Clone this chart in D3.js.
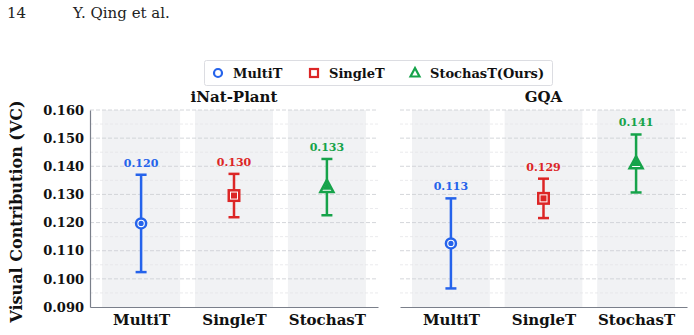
<!DOCTYPE html>
<html>
<head>
<meta charset="utf-8">
<script src="https://cdn.jsdelivr.net/npm/d3@7"></script>
<style>
    body { margin: 0; background: #fff; }
    text { font-family: "DejaVu Serif", serif; font-weight: bold; }
</style>
</head>
<body>
<div id="chart"></div>
<script>
"use strict";

const methods = ["MultiT", "SingleT", "StochasT"];
const legendNames = ["MultiT", "SingleT", "StochasT(Ours)"];
const colors = ["#2563eb", "#dc2626", "#16a34a"];
const shapes = ["circle", "square", "triangle"];

const datasets = ["iNat-Plant", "GQA"];
const inatMeans = [0.1197, 0.1296, 0.1326];
const inatErrs = [0.0173, 0.0077, 0.0100];
const gqaMeans = [0.1126, 0.1286, 0.1410];
const gqaErrs = [0.0160, 0.0070, 0.0103];

const yTicks = [0.090, 0.100, 0.110, 0.120, 0.130, 0.140, 0.150, 0.160];
const yMinorTicks = [0.095, 0.105, 0.115, 0.125, 0.135, 0.145, 0.155];

const W = 694, H = 335;
const svg = d3.select("#chart").append("svg")
    .attr("width", W).attr("height", H);

// page header
svg.append("text").attr("x", 7).attr("y", 18)
    .style("font-weight", "normal").style("font-size", "15px").attr("fill", "#222").text("14");
svg.append("text").attr("x", 73).attr("y", 18)
    .style("font-weight", "normal").style("font-size", "15px").attr("fill", "#222").text("Y. Qing et al.");

const yScale = d3.scaleLinear().domain([0.09, 0.16]).range([307, 110]);

// marker: white-filled outer shape with coloured edge, then a filled core
function drawMarker(g, shape, cx, cy, color) {
    if (shape === "circle") {
        g.append("circle").attr("cx", cx).attr("cy", cy).attr("r", 5)
            .attr("fill", "#fff").attr("stroke", color).attr("stroke-width", 2.5);
        g.append("circle").attr("cx", cx).attr("cy", cy).attr("r", 2.6).attr("fill", color);
    } else if (shape === "square") {
        g.append("rect").attr("x", cx - 5.25).attr("y", cy - 5.25)
            .attr("width", 10.5).attr("height", 10.5)
            .attr("fill", "#fff").attr("stroke", color).attr("stroke-width", 2.5);
        g.append("rect").attr("x", cx - 3).attr("y", cy - 3).attr("width", 6).attr("height", 6)
            .attr("fill", color);
    } else {
        const s = 6.5;
        g.append("path").attr("d", d3.line()([[cx, cy - s * 1.1], [cx + s, cy + s * 0.75], [cx - s, cy + s * 0.75]]) + "Z")
            .attr("fill", "#fff").attr("stroke", color).attr("stroke-width", 2.5);
        const t = 4.4;
        g.append("path").attr("d", d3.line()([[cx, cy - t * 1.3], [cx + t, cy + t * 0.6], [cx - t, cy + t * 0.6]]) + "Z")
            .attr("fill", color);
    }
}

function drawPanel(opts) {
    const {name, means, errs, x0, x1, showLeft} = opts;
    const xScale = d3.scaleLinear().domain([-0.55, 2.55]).range([x0, x1]);
    const g = svg.append("g");

    // shaded category bands
    g.selectAll("rect.band").data(methods).join("rect")
        .attr("class", "band")
        .attr("x", (d, i) => xScale(i - 0.42))
        .attr("width", (d, i) => xScale(i + 0.42) - xScale(i - 0.42))
        .attr("y", yScale(0.16)).attr("height", yScale(0.09) - yScale(0.16))
        .attr("fill", "#f1f2f4");

    // grid lines
    g.selectAll("line.minor").data(yMinorTicks).join("line")
        .attr("x1", x0).attr("x2", x1)
        .attr("y1", d => yScale(d)).attr("y2", d => yScale(d))
        .attr("stroke", "#e4e5e8").attr("stroke-width", 0.8).attr("stroke-dasharray", "3,2");
    g.selectAll("line.major").data(yTicks.slice(1)).join("line")
        .attr("x1", x0).attr("x2", x1)
        .attr("y1", d => yScale(d)).attr("y2", d => yScale(d))
        .attr("stroke", "#cfd1d6").attr("stroke-width", 0.9).attr("stroke-dasharray", "4,2");

    // axes
    const xAxis = d3.axisBottom(xScale).tickValues([0, 1, 2])
        .tickFormat(i => methods[i]).tickSize(0).tickPadding(7);
    const xg = g.append("g").attr("transform", `translate(0,${yScale(0.09)})`).call(xAxis);
    xg.select(".domain").attr("stroke", "#7a7f8a").attr("stroke-width", 1.2);
    xg.selectAll("text").style("font-size", "15px").attr("fill", "#111");

    if (showLeft) {
        const yAxis = d3.axisLeft(yScale).tickValues(yTicks)
            .tickFormat(d3.format(".3f")).tickSize(0).tickPadding(6);
        const yg = g.append("g").attr("transform", `translate(${x0},0)`).call(yAxis);
        yg.select(".domain").attr("stroke", "#7a7f8a").attr("stroke-width", 1.2);
        yg.selectAll("text").style("font-size", "13px").attr("fill", "#111");
    }

    // title
    g.append("text").attr("x", (x0 + x1) / 2).attr("y", 102)
        .attr("text-anchor", "middle").style("font-size", "15px").attr("fill", "#111")
        .text(name);

    // error bars, markers and value labels
    methods.forEach((m, i) => {
        const cx = xScale(i), color = colors[i];
        const top = yScale(means[i] + errs[i]), bot = yScale(means[i] - errs[i]);
        g.append("line").attr("x1", cx).attr("x2", cx).attr("y1", top).attr("y2", bot)
            .attr("stroke", color).attr("stroke-width", 2.5);
        [top, bot].forEach(y => {
            g.append("line").attr("x1", cx - 5.5).attr("x2", cx + 5.5).attr("y1", y).attr("y2", y)
                .attr("stroke", color).attr("stroke-width", 2.5);
        });
        drawMarker(g, shapes[i], cx, yScale(means[i]), color);
        g.append("text").attr("x", cx).attr("y", top - 8)
            .attr("text-anchor", "middle").style("font-size", "11px").attr("fill", color)
            .text(d3.format(".3f")(means[i]));
    });
}

drawPanel({name: datasets[0], means: inatMeans, errs: inatErrs, x0: 90, x1: 378, showLeft: true});
drawPanel({name: datasets[1], means: gqaMeans, errs: gqaErrs, x0: 400, x1: 687, showLeft: false});

// y label
svg.append("text")
    .attr("transform", `translate(22,${(yScale(0.09) + yScale(0.16)) / 2 + 3}) rotate(-90)`)
    .attr("text-anchor", "middle").style("font-size", "16px").attr("fill", "#111")
    .text("Visual Contribution (VC)");

// legend
const legend = svg.append("g");
legend.append("rect").attr("x", 204.5).attr("y", 60.5).attr("width", 348).attr("height", 25)
    .attr("rx", 2).attr("fill", "#fff").attr("stroke", "#dcdde2").attr("stroke-width", 1);
const legendX = [218, 314, 415];
legendNames.forEach((n, i) => {
    const cx = legendX[i], cy = 73;
    const lg = legend.append("g");
    if (shapes[i] === "circle") {
        lg.append("circle").attr("cx", cx).attr("cy", cy).attr("r", 4)
            .attr("fill", "#fff").attr("stroke", colors[i]).attr("stroke-width", 2.2);
    } else if (shapes[i] === "square") {
        lg.append("rect").attr("x", cx - 4).attr("y", cy - 4).attr("width", 8).attr("height", 8)
            .attr("fill", "#fff").attr("stroke", colors[i]).attr("stroke-width", 2.2);
    } else {
        lg.append("path").attr("d", d3.line()([[cx, cy - 5], [cx + 4.5, cy + 3.5], [cx - 4.5, cy + 3.5]]) + "Z")
            .attr("fill", "#fff").attr("stroke", colors[i]).attr("stroke-width", 2.2);
    }
    lg.append("text").attr("x", cx + 15).attr("y", cy + 4.5)
        .style("font-size", "13px").attr("fill", "#111").text(n);
});
</script>
</body>
</html>
